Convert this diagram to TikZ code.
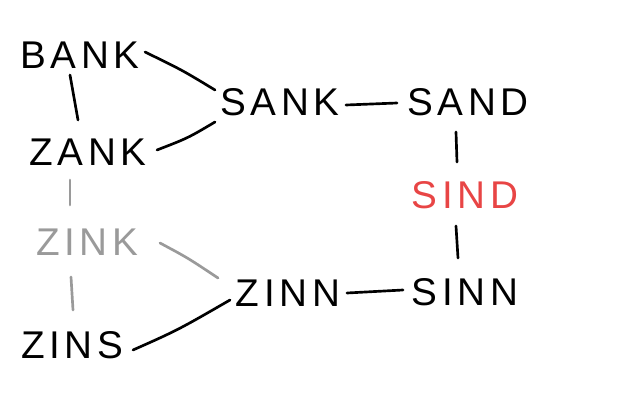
\documentclass[tikz,border=0pt]{standalone}
\usepackage{fontspec}
\setmainfont{Liberation Sans}[LetterSpace=12]
\definecolor{wred}{HTML}{E84545}
\definecolor{wgray}{HTML}{9A9A9A}
\begin{document}
\begin{tikzpicture}[x=0.75pt,y=-0.75pt,
  word/.style={font=\fontsize{29}{32}\selectfont, inner sep=0pt, text=black},
  link/.style={line width=2pt, line cap=round, draw=black},
  faint/.style={draw=wgray}]
\useasboundingbox (0,0) rectangle (640,400);
\node[word] (bank) at (80,55) {BANK};
\node[word] (zank) at (88,152) {ZANK};
\node[word, text=wgray] (zink) at (87,242) {ZINK};
\node[word] (zins) at (72,345) {ZINS};
\node[word] (sank) at (280,102) {SANK};
\node[word] (sand) at (468,102) {SAND};
\node[word, text=wred] (sind) at (465,195) {SIND};
\node[word] (zinn) at (288,293) {ZINN};
\node[word] (sinn) at (465,292) {SINN};
\coordinate (bs1) at (145,52); \coordinate (bs2) at (215,90);
\coordinate (bz1) at (70,75); \coordinate (bz2) at (78,120);
\coordinate (zs1) at (157,150); \coordinate (zs2) at (215,122);
\coordinate (zz1) at (70,180); \coordinate (zz2) at (70,205);
\coordinate (zn1) at (160,243); \coordinate (zn2) at (218,278);
\coordinate (zi1) at (71,277); \coordinate (zi2) at (73,310);
\coordinate (sn1) at (133,350); \coordinate (sn2) at (230,300);
\coordinate (ss1) at (346,105); \coordinate (ss2) at (397,103);
\coordinate (sd1) at (456,132); \coordinate (sd2) at (457,162);
\coordinate (si1) at (456,226); \coordinate (si2) at (458,258);
\coordinate (nn1) at (347,293); \coordinate (nn2) at (403,290);
\draw[link] (bs1) .. controls (182,70) .. (bs2);
\draw[link] (bz1) -- (bz2);
\draw[link] (zs1) .. controls (188,138) .. (zs2);
\draw[link, faint] (zz1) -- (zz2);
\draw[link, faint] (zn1) .. controls (188,258) .. (zn2);
\draw[link, faint] (zi1) -- (zi2);
\draw[link] (sn1) .. controls (178,330) .. (sn2);
\draw[link] (ss1) -- (ss2);
\draw[link] (sd1) -- (sd2);
\draw[link] (si1) -- (si2);
\draw[link] (nn1) -- (nn2);
\end{tikzpicture}
\end{document}
